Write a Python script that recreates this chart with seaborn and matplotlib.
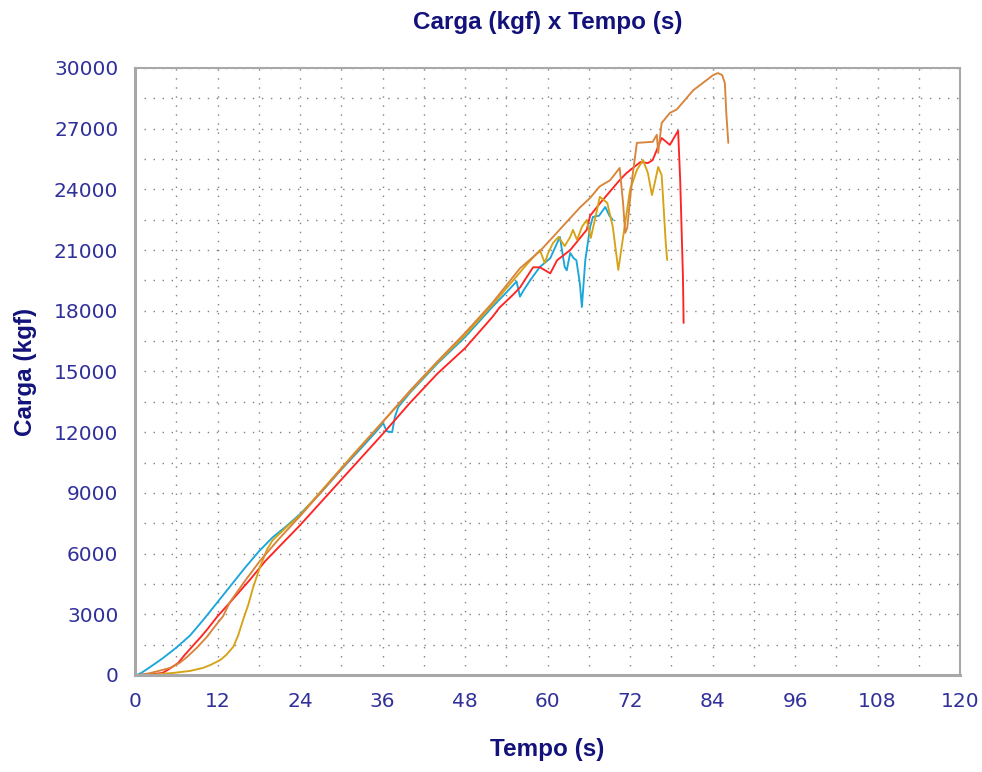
import matplotlib
matplotlib.use("Agg")
import matplotlib.pyplot as plt
from matplotlib.ticker import MultipleLocator
import seaborn as sns
import pandas as pd

# ---- data ----
cyan_t = [0.3, 1, 2, 3, 4, 6, 8, 10, 12, 14, 16, 18, 20, 22, 24, 27, 30, 33, 35, 36.1, 36.6, 37.4, 37.8, 38.3,
          40, 44, 48, 52, 54, 55.5, 56.0, 56.5, 57.5, 58.9, 60.4, 61.4, 61.8, 62.5, 62.8, 63.3, 63.8, 64.2, 64.7,
          65.0, 65.5, 66.2, 66.6, 67.5, 68.4, 69.0, 69.5]
cyan_y = [0, 120, 350, 580, 820, 1350, 1950, 2750, 3600, 4450, 5300, 6100, 6800, 7350, 7950, 9000, 10150, 11250,
          12000, 12450, 12050, 12000, 12750, 13250, 13950, 15400, 16700, 18200, 18900, 19450, 18700, 19000, 19520,
          20170, 20600, 21350, 21650, 20170, 20000, 20860, 20600, 20500, 19370, 18190, 20510, 22140, 22640, 22700,
          23130, 22700, 22490]

red_t = [0.7, 2, 4, 5, 6.3, 7, 8.3, 9.5, 10.5, 12, 12.8, 14.5, 16.7, 19, 22, 24, 28, 32, 36, 40, 44, 48, 52, 53,
         55, 56, 57.9, 58.9, 60.4, 61.4, 63.3, 65.7, 66.2, 67.6, 70.5, 71.5, 73.5, 74.6, 75.3, 76.6, 77.8, 79.0,
         79.3, 79.7, 79.8]
red_y = [0, 30, 100, 300, 600, 900, 1400, 1850, 2250, 2900, 3200, 3850, 4700, 5650, 6700, 7400, 8900, 10400, 11900,
         13450, 14900, 16150, 17700, 18150, 18800, 19150, 20150, 20150, 19850, 20500, 21000, 22000, 22700, 23300,
         24460, 24810, 25350, 25300, 25450, 26540, 26200, 26900, 24460, 19700, 17400]

gold_t = [0.5, 3, 5.5, 8, 9.9, 11, 12.4, 13.3, 14.3, 15, 15.7, 16.5, 17.2, 18.2, 19.2, 20, 22, 24, 28, 32, 36, 40,
          44, 48, 52, 55, 57, 58.9, 59.6, 60.1, 60.8, 61.6, 62.5, 63.3, 63.7, 64.3, 65.0, 65.7, 66.3, 67.2, 67.6,
          68.7, 69.5, 70.3, 71.0, 72.0, 73.0, 73.9, 74.6, 75.2, 75.6, 76.1, 76.6, 76.8, 77.2, 77.4]
gold_y = [0, 30, 100, 200, 350, 500, 740, 1000, 1400, 1950, 2700, 3500, 4350, 5350, 6200, 6650, 7300, 7900, 9450,
          11000, 12500, 14000, 15450, 16800, 18300, 19500, 20300, 21000, 20360, 20860, 21350, 21650, 21200, 21650,
          22000, 21500, 22140, 22490, 21600, 22980, 23630, 23330, 22140, 20020, 21650, 23970, 24960, 25450, 24810,
          23720, 24320, 25110, 24710, 23630, 21350, 20510]

orange_t = [0.5, 2, 4, 5.1, 6.5, 7.6, 9, 10.5, 11.5, 12.8, 13.8, 16, 18.2, 21, 24, 28, 32, 36, 40, 44, 48, 52, 56,
            58.9, 60.8, 64.7, 66.2, 67.6, 69.1, 70.5, 71.0, 71.3, 71.6, 72.3, 73.0, 75.3, 75.9, 76.1, 76.6, 77.8,
            78.8, 81.2, 84.1, 84.8, 85.4, 85.8, 86.0, 86.3]
orange_y = [0, 80, 250, 350, 600, 900, 1350, 1900, 2350, 2900, 3600, 4650, 5650, 6750, 7850, 9400, 10950, 12500,
            14050, 15500, 16900, 18400, 20100, 20950, 21650, 23100, 23580, 24150, 24450, 25060, 23300, 21850, 22100,
            24500, 26300, 26350, 26700, 25800, 27280, 27780, 27950, 28900, 29650, 29750, 29650, 29250, 27800, 26300]

series_names = ["cyan", "red", "gold", "orange"]
series_colors = {"cyan": "#1ba6da", "red": "#ff2424", "gold": "#d6a316", "orange": "#d8843a"}

x_ticks = list(range(0, 121, 12))
y_ticks = list(range(0, 30001, 3000))

frames = []
for name, t, y in [("cyan", cyan_t, cyan_y), ("red", red_t, red_y),
                   ("gold", gold_t, gold_y), ("orange", orange_t, orange_y)]:
    frames.append(pd.DataFrame({"Tempo": t, "Carga": y, "serie": name}))
df = pd.concat(frames, ignore_index=True)

# ---- figure ----
sns.set_style("white")
fig = plt.figure(figsize=(9.82, 7.72), dpi=100)
ax = fig.add_axes([135 / 982, 1 - 675 / 772, (960 - 135) / 982, (675 - 68) / 772])

sns.lineplot(data=df, x="Tempo", y="Carga", hue="serie", hue_order=series_names,
             palette=series_colors, sort=False, estimator=None, units="serie",
             linewidth=1.35, legend=False, ax=ax)

ax.set_xlim(0, 120)
ax.set_ylim(0, 30000)
ax.xaxis.set_major_locator(MultipleLocator(12))
ax.xaxis.set_minor_locator(MultipleLocator(6))
ax.yaxis.set_major_locator(MultipleLocator(3000))
ax.yaxis.set_minor_locator(MultipleLocator(1500))
ax.set_xticks(x_ticks)
ax.set_yticks(y_ticks)

grid_kw = dict(color="#808080", linestyle=(0, (1, 5.5)), linewidth=1.0)
ax.grid(True, which="major", **grid_kw)
ax.grid(True, which="minor", **grid_kw)
ax.set_axisbelow(True)

for s in ax.spines.values():
    s.set_color("#a8a8a8")
    s.set_linewidth(1.5)
ax.spines["left"].set_linewidth(2.2)
ax.spines["bottom"].set_linewidth(2.2)

tick_col = "#30309a"
ax.tick_params(axis="both", which="major", direction="out", length=7, width=1.2,
               color="#909090", labelsize=14.5, labelcolor=tick_col, pad=5)
ax.tick_params(axis="both", which="minor", direction="out", length=4, width=1.0, color="#909090")
for lab in ax.get_xticklabels() + ax.get_yticklabels():
    lab.set_family("DejaVu Sans")

title_col = "#12127a"
ax.set_title("Carga (kgf) x Tempo (s)", fontsize=17.5, fontweight="bold", color=title_col,
             family="Liberation Sans", pad=28)
ax.set_xlabel("Tempo (s)", fontsize=17.5, fontweight="bold", color=title_col,
              family="Liberation Sans", labelpad=20)
ax.set_ylabel("Carga (kgf)", fontsize=17.5, fontweight="bold", color=title_col,
              family="Liberation Sans", labelpad=12)

fig.savefig("out.png", dpi=100, facecolor="white")
